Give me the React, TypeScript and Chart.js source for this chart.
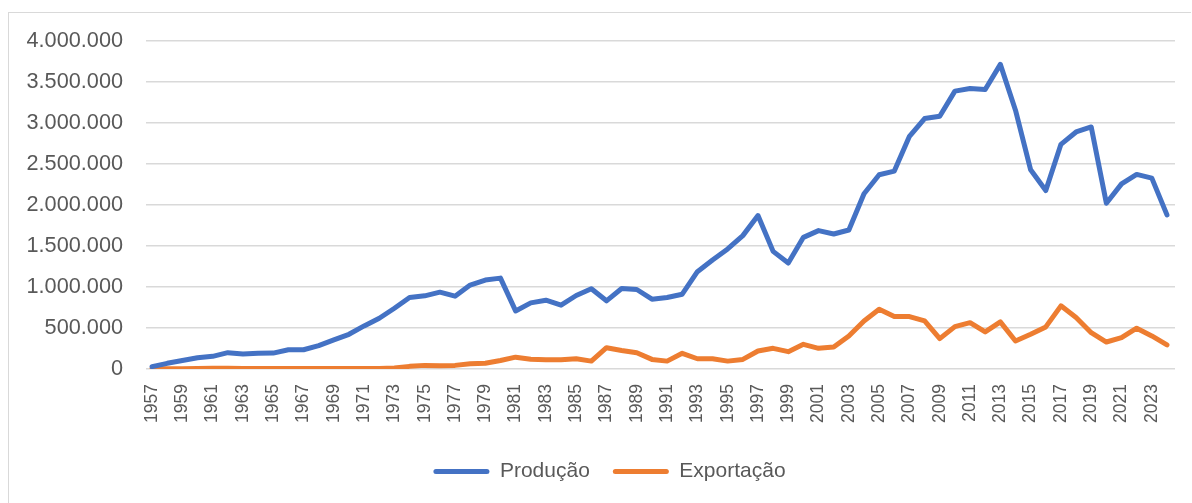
import React, { useEffect, useRef } from "react";
import { Chart, registerables } from "chart.js";

Chart.register(...registerables);

const years = [
  1957, 1958, 1959, 1960, 1961, 1962, 1963, 1964, 1965, 1966, 1967, 1968, 1969, 1970,
  1971, 1972, 1973, 1974, 1975, 1976, 1977, 1978, 1979, 1980, 1981, 1982, 1983, 1984,
  1985, 1986, 1987, 1988, 1989, 1990, 1991, 1992, 1993, 1994, 1995, 1996, 1997, 1998,
  1999, 2000, 2001, 2002, 2003, 2004, 2005, 2006, 2007, 2008, 2009, 2010, 2011, 2012,
  2013, 2014, 2015, 2016, 2017, 2018, 2019, 2020, 2021, 2022, 2023, 2024,
];

const producao = [
  30000, 70000, 105000, 138000, 155000, 200000, 183000, 192000, 195000, 236000, 236000,
  285000, 355000, 424000, 526000, 620000, 742000, 872000, 893000, 938000, 889000,
  1024000, 1085000, 1109000, 709000, 807000, 840000, 779000, 897000, 979000, 832000,
  982000, 970000, 852000, 872000, 913000, 1187000, 1330000, 1464000, 1627000, 1872000,
  1435000, 1293000, 1606000, 1688000, 1647000, 1696000, 2137000, 2369000, 2414000,
  2838000, 3054000, 3083000, 3389000, 3421000, 3409000, 3715000, 3156000, 2430000,
  2177000, 2740000, 2891000, 2952000, 2022000, 2258000, 2373000, 2328000, 1880000,
];

const exportacao = [
  5000, 5000, 5000, 8000, 10000, 10000, 8000, 8000, 8000, 8000, 8000, 8000, 8000, 8000,
  8000, 8000, 12000, 33000, 45000, 40000, 45000, 65000, 70000, 104000, 145000, 120000,
  115000, 115000, 125000, 97000, 260000, 227000, 200000, 118000, 97000, 192000, 126000,
  126000, 97000, 118000, 220000, 253000, 212000, 302000, 253000, 269000, 404000, 587000,
  730000, 640000, 640000, 587000, 371000, 518000, 566000, 453000, 575000, 343000, 424000,
  514000, 771000, 628000, 444000, 330000, 383000, 498000, 404000, 294000,
];

const tickYears = [
  1957, 1959, 1961, 1963, 1965, 1967, 1969, 1971, 1973, 1975, 1977, 1979, 1981, 1983,
  1985, 1987, 1989, 1991, 1993, 1995, 1997, 1999, 2001, 2003, 2005, 2007, 2009, 2011,
  2013, 2015, 2017, 2019, 2021, 2023,
];

const seriesNames = ["Produção", "Exportação"];
const seriesColors = ["#4472C4", "#ED7D31"];

const FONT = "'Liberation Sans', Arial, sans-serif";
const TEXT = "#595959";

function fmt(v: number): string {
  return String(v).replace(/\B(?=(\d{3})+(?!\d))/g, ".");
}

const legendShift = {
  id: "legendShift",
  afterLayout(chart: any) {
    if (chart.legend) {
      chart.legend.left += 11;
      chart.legend.right += 11;
    }
  },
};

export default function App() {
  const ref = useRef<HTMLCanvasElement | null>(null);

  useEffect(() => {
    if (!ref.current) return;
    const series = [producao, exportacao];
    const chart = new Chart(ref.current, {
      type: "line",
      plugins: [legendShift],
      data: {
        datasets: series.map((vals, si) => ({
          label: seriesNames[si],
          data: vals.map((v, i) => ({ x: years[i], y: v })),
          borderColor: seriesColors[si],
          backgroundColor: seriesColors[si],
          borderWidth: 5,
          pointRadius: 0,
          tension: 0,
          borderJoinStyle: "round",
          borderCapStyle: "round",
        })),
      },
      options: {
        animation: false,
        responsive: false,
        maintainAspectRatio: false,
        layout: { padding: { left: 22, right: 17, top: 41, bottom: 11 } },
        scales: {
          x: {
            type: "linear",
            min: 1956.6,
            max: 2024.53,
            afterBuildTicks: (axis: any) => {
              axis.ticks = tickYears.map((v) => ({ value: v }));
            },
            afterFit: (axis: any) => {
              axis.height = axis.height + 8;
            },
            grid: { display: false },
            border: { display: false },
            ticks: {
              autoSkip: false,
              minRotation: 90,
              maxRotation: 90,
              padding: 7,
              color: TEXT,
              font: { family: FONT, size: 17.5 },
              callback: (v: any) => String(v),
            },
          },
          y: {
            min: 0,
            max: 4000000,
            afterFit: (axis: any) => {
              axis.width = 124;
            },
            grid: { color: "#d9d9d9", lineWidth: 1.5, drawTicks: false },
            border: { display: false },
            ticks: {
              stepSize: 500000,
              padding: 23,
              color: TEXT,
              font: { family: FONT, size: 21.7 },
              callback: (v: any) => fmt(Number(v)),
            },
          },
        },
        plugins: {
          legend: {
            position: "bottom",
            labels: {
              boxWidth: 56,
              boxHeight: 5,
              padding: 23,
              color: TEXT,
              font: { family: FONT, size: 21 },
              useBorderRadius: true,
              borderRadius: 2.5,
              generateLabels: (c: any) =>
                c.data.datasets.map((d: any, i: number) => ({
                  text: d.label,
                  fillStyle: d.borderColor,
                  strokeStyle: d.borderColor,
                  lineWidth: 0,
                  fontColor: TEXT,
                  hidden: false,
                  datasetIndex: i,
                  borderRadius: 2.5,
                })),
            },
          },
          tooltip: { enabled: false },
        },
      },
    });
    return () => chart.destroy();
  }, []);

  return (
    <>
      <div
        style={{
          position: "absolute",
          left: 8,
          top: 12,
          width: 1183,
          height: 491,
          borderTop: "1.5px solid #d9d9d9",
          borderLeft: "1.5px solid #d9d9d9",
          boxSizing: "border-box",
        }}
      />
      <canvas
        ref={ref}
        width={1192}
        height={503}
        style={{ position: "absolute", left: 0, top: 0, width: 1192, height: 503 }}
      />
    </>
  );
}
